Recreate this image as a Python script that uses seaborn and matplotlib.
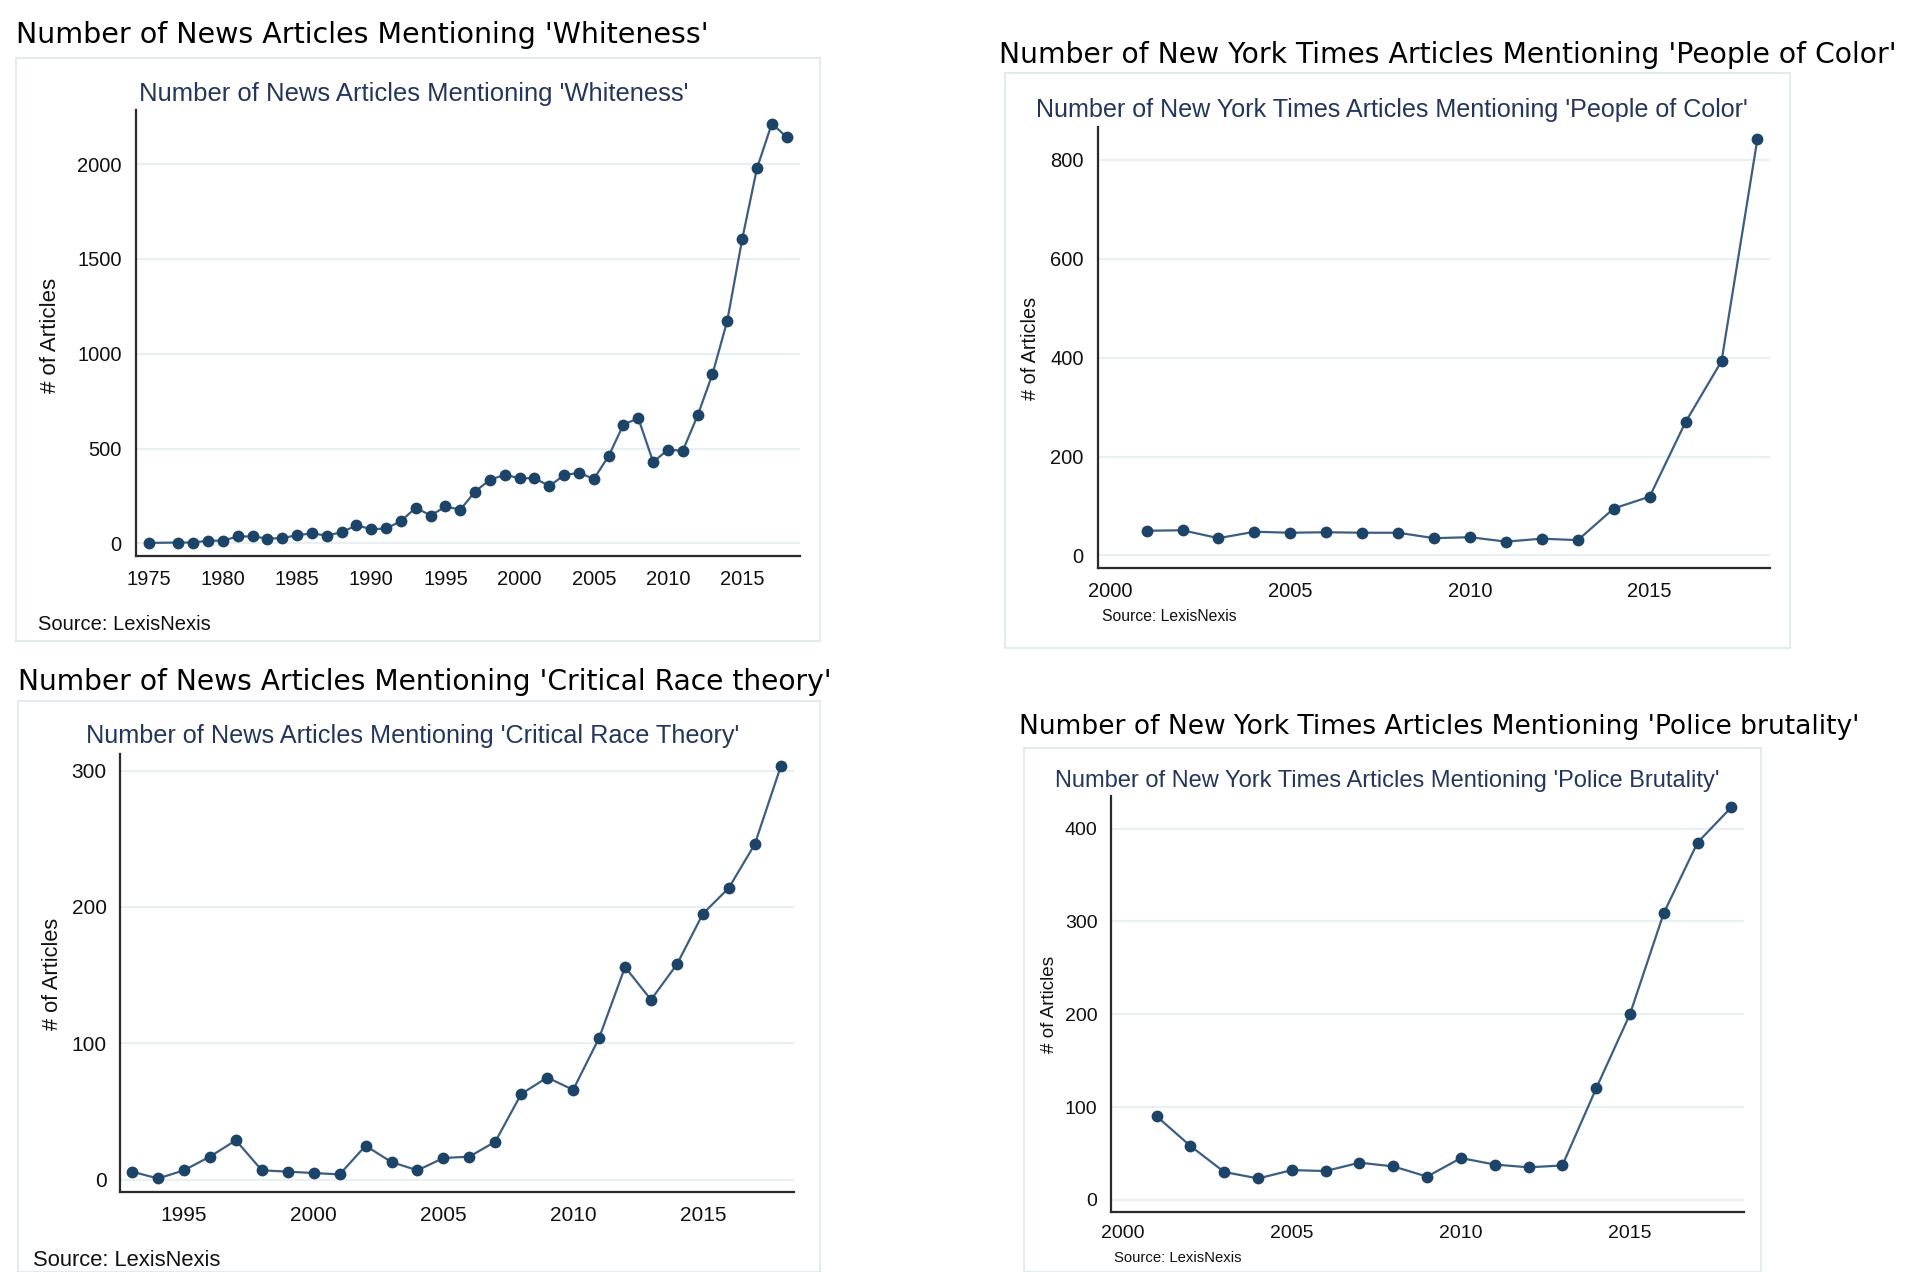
import matplotlib
matplotlib.use("Agg")
import matplotlib.pyplot as plt
from matplotlib.patches import Rectangle
import seaborn as sns

# values
whiteness_years = [1975] + list(range(1977, 2019))
whiteness_counts = [3, 5, 5, 15, 15, 37, 37, 26, 28, 44, 53, 42, 59, 96, 75,
                    79, 118, 189, 147, 195, 178, 274, 336, 362, 344, 344, 303,
                    360, 373, 340, 461, 627, 660, 430, 494, 489, 675, 893, 1175,
                    1603, 1978, 2213, 2143]

poc_years = list(range(2001, 2019))
poc_counts = [50, 51, 35, 48, 46, 47, 46, 46, 35, 37, 28, 34, 31, 95, 119,
              270, 393, 843]

crt_years = list(range(1993, 2019))
crt_counts = [6, 1, 7, 17, 29, 7, 6, 5, 4, 25, 13, 7, 16, 17, 28, 63, 75, 66,
              104, 156, 132, 158, 195, 214, 246, 303]

police_years = list(range(2001, 2019))
police_counts = [90, 58, 30, 23, 32, 31, 40, 36, 25, 45, 38, 35, 37, 120, 200,
                 309, 385, 423]

outer_titles = [
    "Number of News Articles Mentioning 'Whiteness'",
    "Number of New York Times Articles Mentioning 'People of Color'",
    "Number of News Articles Mentioning 'Critical Race theory'",
    "Number of New York Times Articles Mentioning 'Police brutality'",
]
inner_titles = [
    "Number of News Articles Mentioning 'Whiteness'",
    "Number of New York Times Articles Mentioning 'People of Color'",
    "Number of News Articles Mentioning 'Critical Race Theory'",
    "Number of New York Times Articles Mentioning 'Police Brutality'",
]

W, H = 1908, 1272
NAVY = "#1c4368"
LINE = "#3b5e82"
TITLE_NAVY = "#25365c"
GRID = "#e8f0f1"
FRAME = "#e3ebed"

sns.set_style("white")
plt.rcParams["font.family"] = ["Liberation Sans", "DejaVu Sans"]

fig = plt.figure(figsize=(W / 100, H / 100), dpi=100)
renderer = fig.canvas.get_renderer()


def fit_text(x, y, s, width, **kw):
    t = fig.text(x / W, 1 - y / H, s, va="center", ha="left", **kw)
    w = t.get_window_extent(renderer).width
    t.set_fontsize(t.get_fontsize() * width / w)
    return t


panels = [
    dict(years=whiteness_years, counts=whiteness_counts,
         frame=(16, 58, 820, 641), ax=(135.6, 110.4, 800, 556),
         xlim=(1974.11, 2018.9), ylim=(-66, 2283),
         xmajor=range(1975, 2016, 5), xminor=range(1975, 2019),
         yticks=range(0, 2001, 500),
         outer=(15.8, 35.4, 692), inner=(139, 93.8, 550),
         source=(37.8, 625, 14.5), ylab=(51, 335, 16), tick=14.5),
    dict(years=poc_years, counts=poc_counts,
         frame=(1005, 73, 1790, 648), ax=(1097.7, 127.4, 1769.7, 568.2),
         xlim=(1999.64, 2018.34), ylim=(-25.7, 865.5),
         xmajor=range(2000, 2016, 5), xminor=range(2000, 2019),
         yticks=range(0, 801, 200),
         outer=(999, 54.8, 897), inner=(1036, 110.2, 713),
         source=(1101.8, 616.6, 11.3), ylab=(1031, 348, 14.3), tick=14.5),
    dict(years=crt_years, counts=crt_counts,
         frame=(18, 701, 820, 1272), ax=(120.4, 754.2, 793.7, 1192.4),
         xlim=(1992.55, 2018.5), ylim=(-9.2, 312),
         xmajor=range(1995, 2016, 5), xminor=range(1993, 2019),
         yticks=range(0, 301, 100),
         outer=(18.4, 681.6, 816), inner=(85.7, 736.5, 653),
         source=(32.6, 1260, 15.8), ylab=(52.6, 974, 15.7), tick=15),
    dict(years=police_years, counts=police_counts,
         frame=(1024, 748, 1761, 1272), ax=(1111.3, 796.1, 1743.9, 1211.5),
         xlim=(1999.66, 2018.37), ylim=(-12.6, 435),
         xmajor=range(2000, 2016, 5), xminor=range(2000, 2019),
         yticks=range(0, 401, 100),
         outer=(1018.6, 727.5, 841), inner=(1055, 780.7, 664),
         source=(1113.6, 1258, 10.7), ylab=(1049, 1004, 13.6), tick=14),
]

for i, p in enumerate(panels):
    fl, ft, fr, fb = p["frame"]
    fig.patches.append(Rectangle((fl / W, 1 - fb / H), (fr - fl) / W, (fb - ft) / H,
                                 transform=fig.transFigure, fill=False,
                                 edgecolor=FRAME, linewidth=1.5))

    left, top, right, bottom = p["ax"]
    ax = fig.add_axes([left / W, 1 - bottom / H, (right - left) / W, (bottom - top) / H])
    ax.set_facecolor("white")
    for yv in p["yticks"]:
        ax.axhline(yv, color=GRID, linewidth=1.6, zorder=0)

    sns.lineplot(x=p["years"], y=p["counts"], ax=ax, color=LINE, linewidth=1.6,
                 marker="o", markersize=8.5, markerfacecolor=NAVY,
                 markeredgecolor=NAVY, markeredgewidth=0)

    ax.set_xlim(*p["xlim"])
    ax.set_ylim(*p["ylim"])
    ax.set_xticks(list(p["xmajor"]))
    ax.set_xticks(list(p["xminor"]), minor=True)
    ax.set_yticks(list(p["yticks"]))
    ax.set_xticklabels([str(v) for v in p["xmajor"]])
    ax.set_yticklabels([str(v) for v in p["yticks"]])
    ax.tick_params(axis="both", which="major", length=7, width=1.2,
                   color="#333333", labelsize=p["tick"], labelcolor="#111111",
                   direction="out", pad=3)
    ax.tick_params(axis="x", which="minor", length=4, width=1.0,
                   color="#333333", direction="out")
    ax.grid(False)
    for side in ["top", "right"]:
        ax.spines[side].set_visible(False)
    for side in ["left", "bottom"]:
        ax.spines[side].set_color("#2b2b2b")
        ax.spines[side].set_linewidth(1.6)

    ox, oy, ow = p["outer"]
    fit_text(ox, oy, outer_titles[i], ow, family=["DejaVu Sans"], fontsize=20,
             color="black")
    ix, iy, iw = p["inner"]
    fit_text(ix, iy, inner_titles[i], iw, fontsize=18, color=TITLE_NAVY)

    sx, sy, ss = p["source"]
    fig.text(sx / W, 1 - sy / H, "Source: LexisNexis", fontsize=ss,
             color="#111111", ha="left", va="center")
    lx, ly, ls = p["ylab"]
    fig.text(lx / W, 1 - ly / H, "# of Articles", fontsize=ls, rotation=90,
             color="#111111", ha="center", va="center")

fig.savefig("out.png", dpi=100, facecolor="white")
